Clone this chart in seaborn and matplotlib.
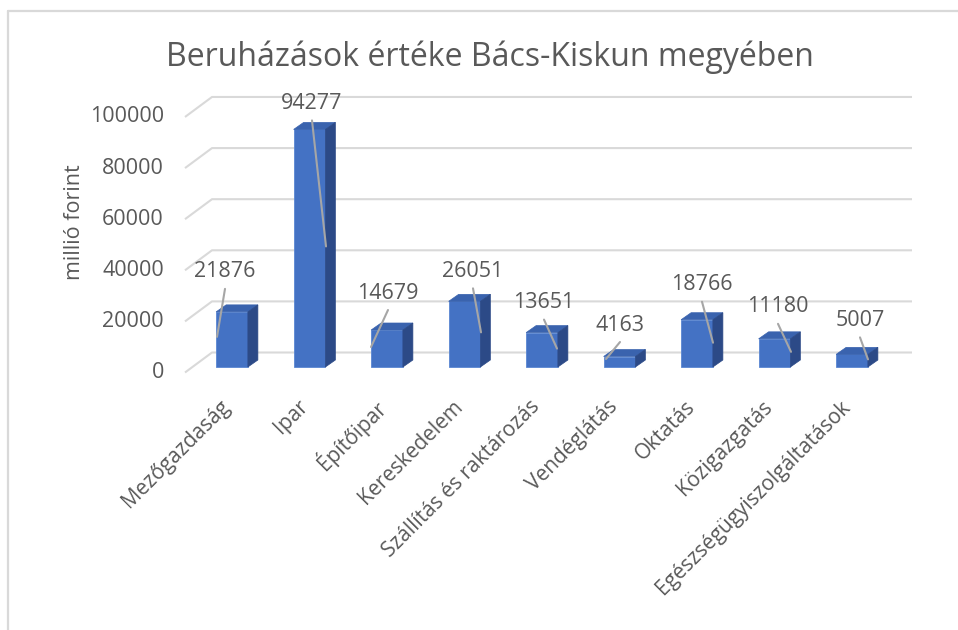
import matplotlib
matplotlib.use("Agg")
import matplotlib.pyplot as plt
import matplotlib.transforms as mtransforms
from matplotlib.patches import Polygon
from matplotlib.lines import Line2D
import seaborn as sns
import pandas as pd

# adatok
categories = ["Mezőgazdaság", "Ipar", "Építőipar", "Kereskedelem",
              "Szállítás és raktározás", "Vendéglátás", "Oktatás",
              "Közigazgatás", "Egészségügyiszolgáltatások"]
values = [21876, 94277, 14679, 26051, 13651, 4163, 18766, 11180, 5007]
y_ticks = [0, 20000, 40000, 60000, 80000, 100000]
title = "Beruházások értéke Bács-Kiskun megyében"
y_label = "millió forint"

# címkék helye pixelben (a hasáb elülső tetejéhez képest), vezetővonalak vége
label_dx = [-7, 2.5, 1, 8.5, 2, 0.5, 5, 3.5, 8]
label_dy = [40, 26, 37, 30, 30, 31.5, 35, 32, 34]
leader_dx = [-15, 16.5, -16, 16.5, 15, -13.5, 16, 16.5, 16]
leader_dy = [-25, -117, -17, -31, -16, -2.5, -23, -13, -5]

FRONT = "#4472C4"
TOP = "#3A63AE"
SIDE = "#2C4A87"
GRID = "#D9D9D9"
TXT = "#595959"
W, H = 958, 630
FS = 15.5

sns.set_theme(style="white")
plt.rcParams["font.family"] = ["Open Sans", "DejaVu Sans"]

fig = plt.figure(figsize=(W / 100, H / 100), dpi=100)
# tengely: x 170..930 px, y 60..380 px (kép koordinátában)
ax = fig.add_axes([170 / W, 1 - 380 / H, 760 / W, 320 / H])

df = pd.DataFrame({"kategoria": categories, "ertek": values})
sns.barplot(data=df, x="kategoria", y="ertek", color=FRONT, saturation=1,
            width=0.41, ax=ax, zorder=3, edgecolor="#5A86D2", linewidth=0.6)

ax.set_xlim((170 - 232) / 77.5, (930 - 232) / 77.5)
ax.set_ylim((367 - 380) / 2.52 * 1000, (367 - 60) / 2.52 * 1000)
for s in ax.spines.values():
    s.set_visible(False)
ax.set_xlabel("")
ax.set_ylabel("")
ax.set_yticks([])
ax.set_xticks(range(len(categories)))
ax.set_xticklabels(categories, rotation=45, ha="right", va="center",
                   rotation_mode="anchor", fontsize=FS - 0.5, color=TXT)
ax.tick_params(axis="x", length=0, pad=17)
shift = mtransforms.ScaledTranslation(-5 / 100, 0, fig.dpi_scale_trans)
for lab in ax.get_xticklabels():
    lab.set_transform(lab.get_transform() + shift)

to_disp = ax.transData.transform
to_data = ax.transData.inverted().transform


def img2data(px, py):
    return to_data((px, H - py))


def data2img(x, y):
    dx, dy = to_disp((x, y))
    return dx, H - dy


# hátsó rácsvonalak + ferde szakasz
for g in y_ticks:
    _, fy = data2img(0, g * 1.014)
    by = fy - 14.5
    pts = [img2data(185, by + 20), img2data(212, by), img2data(912, by)]
    ax.plot([p[0] for p in pts], [p[1] for p in pts], color=GRID, lw=1.5,
            zorder=1, solid_capstyle="butt", clip_on=False)
    ax.text(*img2data(164, by + 20), f"{g}", ha="right", va="center",
            fontsize=FS, color=TXT, clip_on=False)

# 3D oldal- és tetőlap
DX, DY = 10, 7
for p in list(ax.patches):
    x0, w, h = p.get_x(), p.get_width(), p.get_height()
    x1 = x0 + w
    ax0, ay0 = data2img(x0, 0)
    ax1, ay1 = data2img(x1, h)
    top = [img2data(ax0, ay1), img2data(ax1, ay1),
           img2data(ax1 + DX, ay1 - DY), img2data(ax0 + DX, ay1 - DY)]
    side = [img2data(ax1, ay0), img2data(ax1, ay1),
            img2data(ax1 + DX, ay1 - DY), img2data(ax1 + DX, ay0 - DY)]
    ax.add_patch(Polygon(top, closed=True, fc=TOP, ec=TOP, lw=0.5, zorder=3))
    ax.add_patch(Polygon(side, closed=True, fc=SIDE, ec=SIDE, lw=0.5, zorder=3))

# értékcímkék vezetővonallal
for i, v in enumerate(values):
    cx, ty = data2img(i, v)
    lx, ly = cx + label_dx[i], ty - label_dy[i]
    ex, ey = cx + leader_dx[i], ty - leader_dy[i]
    ax.text(*img2data(lx, ly), f"{v}", ha="center", va="center",
            fontsize=FS, color=TXT, zorder=5, clip_on=False)
    a, b = img2data(lx, ly + 17), img2data(ex, ey)
    ax.plot([a[0], b[0]], [a[1], b[1]], color="#A6A6A6", lw=1.5, zorder=4,
            clip_on=False)

fig.text(490 / W, 1 - 57 / H, title, ha="center", va="center",
         fontsize=23, color=TXT)
fig.text(75 / W, 1 - 222 / H, y_label, ha="center", va="center",
         rotation=90, fontsize=FS, color=TXT)

# keret (bal és felső)
fig.add_artist(Line2D([8 / W, 8 / W], [0, 1 - 11 / H], color=GRID, lw=1.6,
                      transform=fig.transFigure))
fig.add_artist(Line2D([8 / W, 1], [1 - 11 / H, 1 - 11 / H], color=GRID, lw=1.6,
                      transform=fig.transFigure))

fig.savefig("out.png", dpi=100)
